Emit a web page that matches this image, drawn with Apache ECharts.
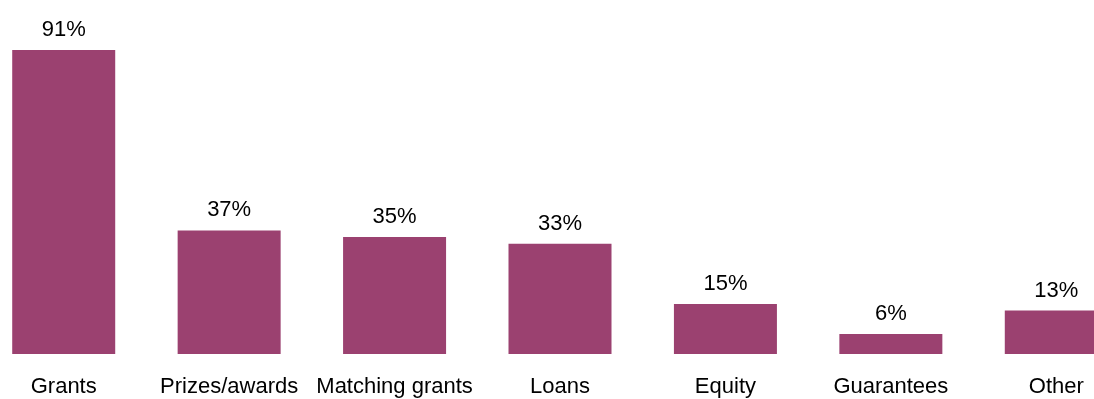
<!DOCTYPE html>
<html><head><meta charset="utf-8">
<script src="https://cdn.jsdelivr.net/npm/echarts@6/dist/echarts.min.js"></script>
<style>html,body{margin:0;padding:0;background:#fff}#c{width:1094px;height:399px}</style>
</head><body><div id="c"></div>
<script>
const categories = ['Grants','Prizes/awards','Matching grants','Loans','Equity','Guarantees','Other'];
const values = [91,37,35,33,15,6,13];
const FONT = "'Liberation Sans',Arial,sans-serif";
const chart = echarts.init(document.getElementById('c'), null, {renderer:'canvas'});
chart.setOption({
  animation:false,
  grid:{left:-19, width:1158, top:20, bottom:45, containLabel:false, outerBoundsMode:'none'},
  xAxis:{type:'category', data:categories,
    axisLine:{show:false}, axisTick:{show:false},
    axisLabel:{interval:0, color:'#000', fontFamily:FONT, fontSize:22, margin:22}},
  yAxis:{type:'value', min:0, max:100, show:false, splitLine:{show:false}},
  series:[{type:'bar', data:values, barWidth:103, itemStyle:{color:'#9b4170'},
    label:{show:true, position:'top', distance:9, formatter:'{c}%', color:'#000', fontFamily:FONT, fontSize:22}}]
});
</script></body></html>
